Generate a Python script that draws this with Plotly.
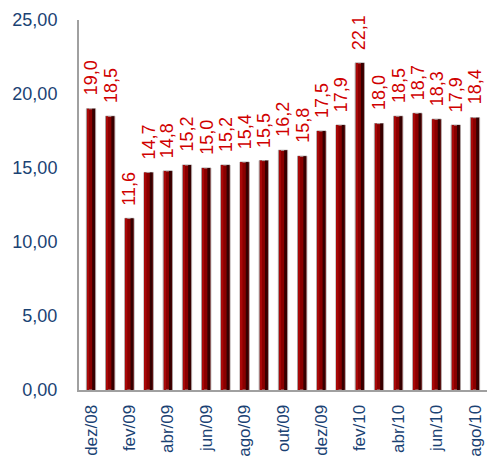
import plotly.graph_objects as go

months = ["dez/08", "jan/09", "fev/09", "mar/09", "abr/09", "mai/09", "jun/09",
          "jul/09", "ago/09", "set/09", "out/09", "nov/09", "dez/09", "jan/10",
          "fev/10", "mar/10", "abr/10", "mai/10", "jun/10", "jul/10", "ago/10"]
values = [19.0, 18.5, 11.6, 14.7, 14.8, 15.2, 15.0, 15.2, 15.4, 15.5, 16.2,
          15.8, 17.5, 17.9, 22.1, 18.0, 18.5, 18.7, 18.3, 17.9, 18.4]
y_ticks = [0, 5, 10, 15, 20, 25]
y_tick_text = ["0,00", "5,00", "10,00", "15,00", "20,00", "25,00"]
shown_months = months[::2]

FONT = "Liberation Sans, Arial, sans-serif"
BLUE = "#1A4273"
RED = "#D00000"

fig = go.Figure()
# main bar body with light grey rim
fig.add_trace(go.Bar(x=months, y=values, width=0.48,
                     marker=dict(color="#8A0000", line=dict(color="#A8A0A0", width=1)),
                     hoverinfo="x+y"))
# lighter left strip
fig.add_trace(go.Bar(x=months, y=values, width=0.08, offset=-0.19,
                     marker=dict(color="#A80808", line=dict(width=0)),
                     hoverinfo="skip"))
# darker right-side shading to mimic the cylinder look
fig.add_trace(go.Bar(x=months, y=values, width=0.15, offset=0.06,
                     marker=dict(color="#360000", line=dict(width=0)),
                     hoverinfo="skip"))

for m, v in zip(months, values):
    fig.add_annotation(x=m, y=v, text=f"{v:.1f}".replace(".", ","),
                       textangle=-90, showarrow=False, yanchor="bottom",
                       yshift=11, font=dict(family=FONT, size=18, color=RED))

fig.update_layout(
    width=487, height=468,
    margin=dict(l=79, r=0, t=20, b=78),
    paper_bgcolor="white", plot_bgcolor="white",
    barmode="overlay", showlegend=False,
    font=dict(family=FONT),
)
fig.update_xaxes(type="category", tickvals=shown_months, ticktext=shown_months,
                 tickangle=-90, tickfont=dict(family=FONT, size=17, color=BLUE),
                 showline=True, linecolor="#A0A0A0", linewidth=2,
                 showgrid=False, ticks="", ticklen=0, ticklabelstandoff=6,
                 automargin=False)
fig.update_yaxes(range=[0, 25], tickvals=y_ticks, ticktext=y_tick_text,
                 tickfont=dict(family=FONT, size=18, color=BLUE),
                 showline=True, linecolor="#A0A0A0", linewidth=2,
                 showgrid=False, zeroline=False, ticks="", ticklabelstandoff=16,
                 automargin=False)

fig.write_html("out.html",
               config={"displayModeBar": False},
               post_script="document.body.style.margin='0';"
                           "document.body.style.overflow='hidden';")
